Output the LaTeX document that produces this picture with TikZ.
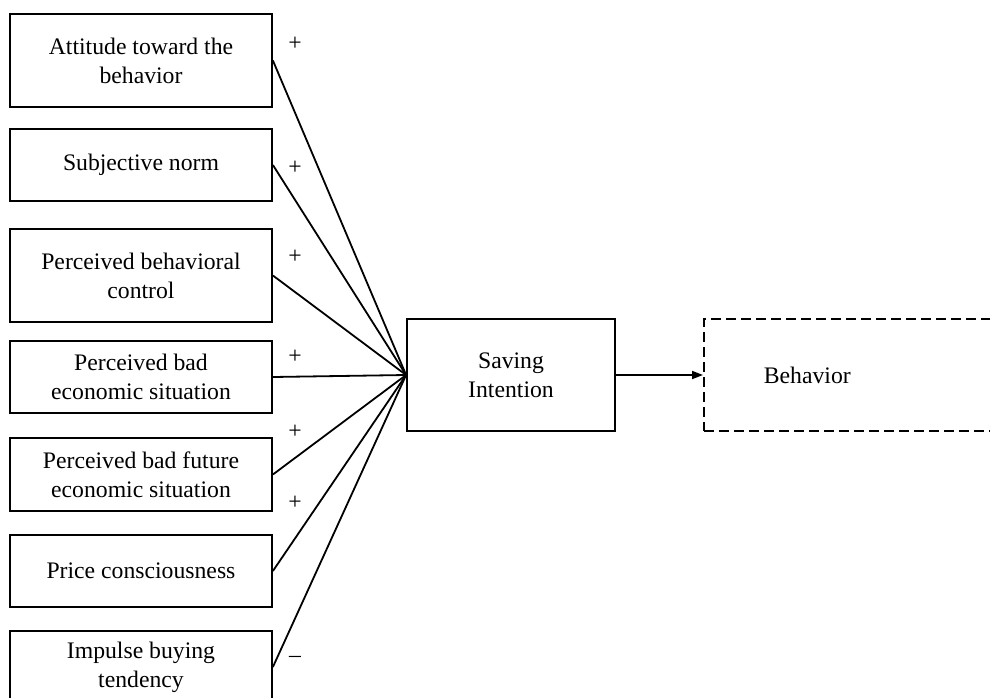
\documentclass[tikz,border=0pt]{standalone}
\usepackage{fontspec}
\setmainfont{Liberation Serif}
\usetikzlibrary{arrows.meta,positioning}

\tikzset{
  factor/.style={draw,line width=1.8pt,minimum width=262pt,align=center,inner sep=0pt},
  sign/.style={inner sep=0pt},
  dashbox/.style={draw,line width=1.8pt,dash pattern=on 10pt off 5pt}
}

\begin{document}
\begin{tikzpicture}[x=1pt,y=-1pt,font=\fontsize{23.7}{29}\selectfont]
\useasboundingbox (0,0) rectangle (990,698);
\foreach \txt/\yc/\hgt [count=\n] in
        {{Attitude toward the\\behavior}/60.5/93,
         {Subjective norm}/165/72,
         {Perceived behavioral\\control}/275.5/93,
         {Perceived bad\\economic situation}/377/72,
         {Perceived bad future\\economic situation}/474.5/73,
         {Price consciousness}/571/72,
         {Impulse buying\\tendency}/667/72}
    \node[factor,minimum height=\hgt pt] (F\n) at (141,\yc) {\txt};

\node[draw,line width=1.8pt,minimum width=208pt,minimum height=112pt,align=center] (SI) at (511,375) {Saving\\Intention};
\node[dashbox,anchor=west,minimum height=112pt,text width=200pt,inner xsep=60pt,align=left] (behav) at (703,375) {Behavior};

\foreach \n in {1,...,7}
    \draw[line width=1.8pt] (F\n.east) -- (SI.west);
\draw[line width=1.8pt,-{Triangle[length=11pt,width=8pt]}] (SI.east) -- (behav.west);

\foreach \s/\yc [count=\n] in {+/44,+/168,+/257,+/357,+/432,+/503,{--}/659}
    \node[sign] (S\n) at (295,\yc) {\s};
\end{tikzpicture}
\end{document}
